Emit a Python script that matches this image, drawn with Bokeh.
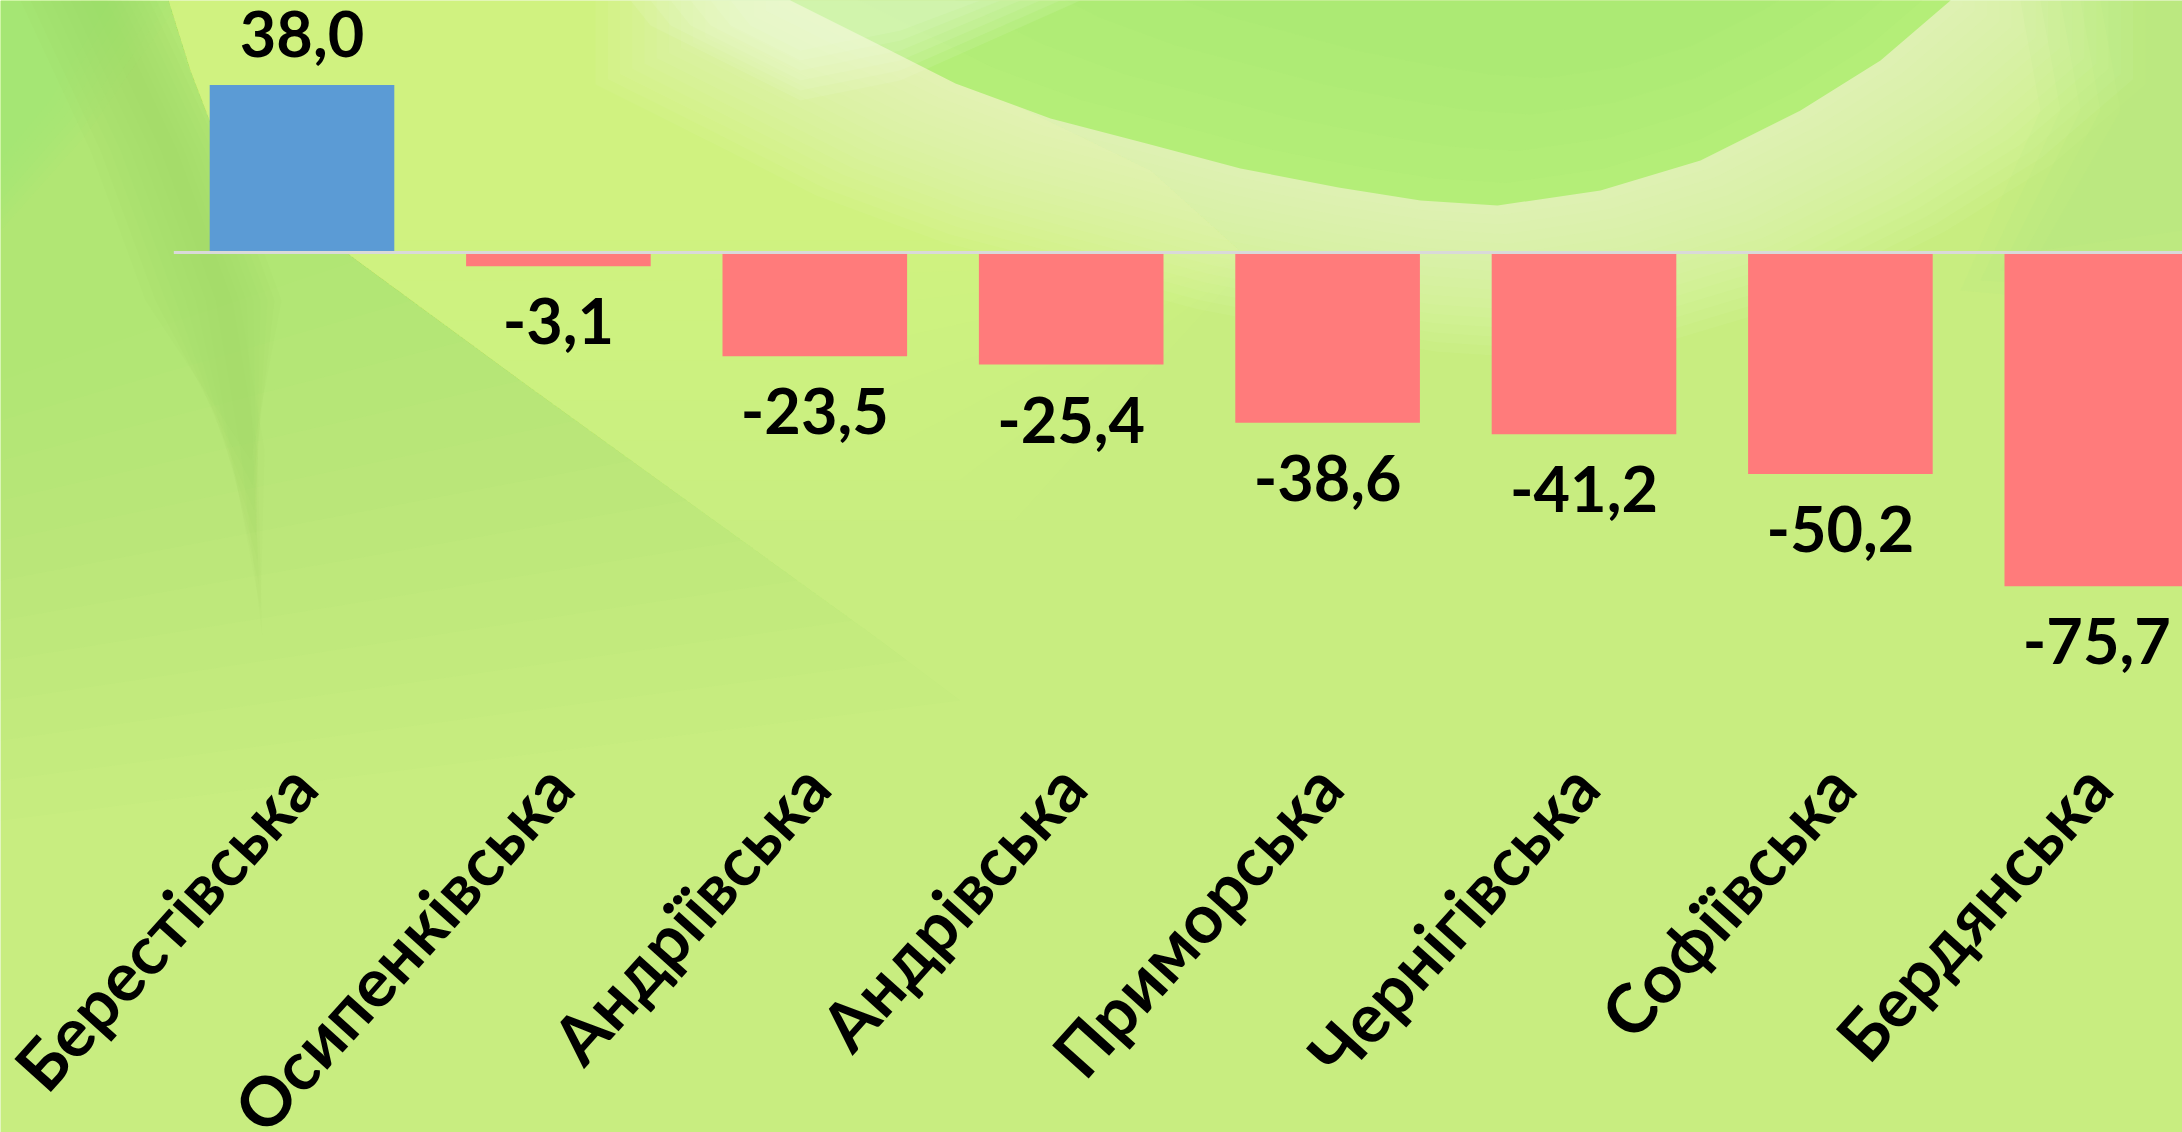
import math
from bokeh.plotting import figure
from bokeh.models import ColumnDataSource, Range1d
from bokeh.embed import file_html
from bokeh.resources import INLINE
from bokeh.core.properties import value

# ---------------- data ----------------
categories = ["Берестівська", "Осипенківська", "Андріївська", "Андрівська",
              "Приморська", "Чернігівська", "Софіївська", "Бердянська"]
values = [38.0, -3.1, -23.5, -25.4, -38.6, -41.2, -50.2, -75.7]
value_labels = ["38,0", "-3,1", "-23,5", "-25,4", "-38,6", "-41,2", "-50,2", "-75,7"]

POS_COLOR = "#5b9bd5"
NEG_COLOR = "#ff7b7b"
BASE_BG = "#c8ed80"

# ---------------- layout (pixels) ----------------
FIG_W, FIG_H = 2182, 1132
PX_CAT = 256.4          # pixels per category
PX_UNIT = 4.41          # pixels per value unit
ZERO_PX = 252           # zero line, from top
FIRST_EDGE_PX = 173.3   # left edge of first category
CAT_LABEL_PX = 773      # anchor row of the rotated category labels

x_start = -0.5 - FIRST_EDGE_PX / PX_CAT
x_end = x_start + FIG_W / PX_CAT
y_end = ZERO_PX / PX_UNIT
y_start = -(FIG_H - ZERO_PX) / PX_UNIT

p = figure(frame_width=FIG_W, frame_height=FIG_H,
           x_range=Range1d(x_start, x_end), y_range=Range1d(y_start, y_end),
           x_axis_location=None, y_axis_location=None,
           output_backend="svg", toolbar_location=None,
           min_border_left=0, min_border_right=0, min_border_top=0, min_border_bottom=0)
p.background_fill_color = BASE_BG
p.border_fill_color = BASE_BG
p.outline_line_color = None
p.xgrid.visible = False
p.ygrid.visible = False

# ---------------- decorative background (screen pixels -> data) ----------------
def gx(px):
    return x_start + px / PX_CAT

def gy(py):
    return (ZERO_PX - py) / PX_UNIT

def deco(pts, col, a):
    p.patch([gx(u) for u, v in pts], [gy(v) for u, v in pts],
            fill_color=col, fill_alpha=a, line_color=None)

def edge_x(ycut, edge):
    for (u0, v0), (u1, v1) in zip(edge[:-1], edge[1:]):
        if v0 <= ycut <= v1:
            return u0 + (u1 - u0) * (ycut - v0) / (v1 - v0)
    return edge[-1][0]

# left greener area bounded by a diagonal, fading softly downward
edge = [(168, 0), (190, 70), (214, 133), (270, 195), (347, 253), (520, 380), (700, 510), (880, 640), (1000, 730)]
for i in range(12):
    ycut = 260 + 40 * i
    pts = [(u, v) for u, v in edge if v < ycut] + [(edge_x(ycut, edge), ycut)]
    deco([(0, 0)] + pts + [(0, ycut + 120)], "#a2de6a", 0.04)
# darker streak, tapering toward the bottom
spine = [(100, 0), (170, 150), (225, 300), (250, 450), (262, 640)]
for w in range(10, 90, 10):
    end = 660 - 2.5 * w
    pts = [(u, v) for u, v in spine if v < end * 0.75]
    tip = (edge_x(end, [(a, b) for a, b in spine]), end)
    left = [(u - w, v) for u, v in pts]
    right = [(u + w * 0.7, v) for u, v in pts]
    deco(left + [tip] + right[::-1], "#92d463", 0.035)
# bright green top-left corner
for w in range(0, 80, 10):
    deco([(0, 0), (110 + w, 0), (50 + w / 2, 100 + w / 2), (0, 160 + w)], "#9fe977", 0.06)
# yellowish zone right of the diagonal
for i in range(8):
    ycut = 240 + 40 * i
    pts = [(u, v) for u, v in edge if v < ycut] + [(edge_x(ycut, edge), ycut)]
    deco(pts + [(pts[-1][0] + 300, ycut), (1250, min(ycut, 260)), (1150, 170), (800, 0)], "#dcf980", 0.07)

# big lobe with soft light rim
lobe = [(790, 0), (870, 40), (955, 83), (1050, 118), (1146, 143), (1240, 168), (1338, 187),
        (1420, 200), (1497, 205), (1600, 190), (1700, 160), (1800, 110), (1880, 60), (1950, 0)]
cx, cy = 1370, -250
for i in range(16, 0, -1):
    k = 0.021 * i
    outer = [(cx + (u - cx) * (1 + k), cy + (v - cy) * (1 + k)) for u, v in lobe]
    deco([(outer[0][0], -40)] + outer + [(outer[-1][0], -40)], "#eafbd6", 0.065)
deco([(lobe[0][0], -20)] + lobe + [(lobe[-1][0], -20)], "#b4ee78", 1.0)
# inner shading of the lobe (darker toward the right)
for s in [0.95, 0.88, 0.8, 0.72]:
    inner = [(cx + 300 + (u - cx - 300) * s, cy + (v - cy) * s) for u, v in lobe]
    deco(inner, "#a8e572", 0.12)
# far right green
for w in range(0, 100, 20):
    deco([(2100 - w, 0), (2182, 0), (2182, 230 + w), (2040 - w, 250 + w / 2), (2120 - w, 110)], "#a8e283", 0.08)
# white glow at top
for w in range(0, 120, 20):
    deco([(730 - w, 0), (980 + w, 0), (900, 30 + w / 2), (800, 50 + w / 2), (750 - w, 25)], "#f8fde9", 0.1)

# ---------------- bars ----------------
xs = list(range(len(categories)))
src = ColumnDataSource(dict(
    x=xs,
    top=values,
    color=[POS_COLOR if v >= 0 else NEG_COLOR for v in values],
    label=value_labels,
    yoff=[-51 if v >= 0 else 55 for v in values],
    cat=categories,
    cat_y=[gy(CAT_LABEL_PX)] * len(categories),
))
p.vbar(x="x", top="top", bottom=0, width=0.72, fill_color="color", line_color=None, source=src)

# zero line
p.segment(x0=-0.5, x1=len(categories) - 0.5, y0=0, y1=0, line_color="#d9d9d9", line_width=3)

# value labels (screen offsets: positive = down)
p.text(x="x", y="top", text="label", y_offset="yoff", source=src,
       text_align="center", text_baseline="alphabetic",
       text_font=value("Lato"), text_font_style="bold",
       text_font_size="63px", text_color="#000000")

# category labels, rotated like the axis labels of the original
p.text(x="x", y="cat_y", text="cat", source=src, angle=math.radians(48),
       text_align="right", text_baseline="middle",
       text_font=value("Lato"), text_font_style="bold",
       text_font_size="68px", text_color="#000000")

open("out.html", "w").write(file_html(p, INLINE))
